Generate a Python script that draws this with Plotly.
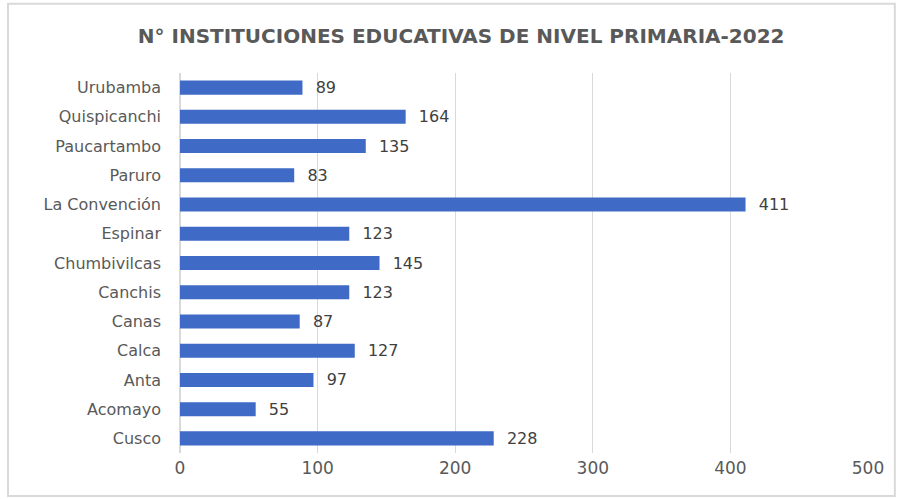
import plotly.graph_objects as go

# Data (bottom to top, as drawn)
provincias = ["Cusco", "Acomayo", "Anta", "Calca", "Canas", "Canchis", "Chumbivilcas",
              "Espinar", "La Convención", "Paruro", "Paucartambo", "Quispicanchi", "Urubamba"]
instituciones = [228, 55, 97, 127, 87, 123, 145, 123, 411, 83, 135, 164, 89]
x_ticks = [0, 100, 200, 300, 400, 500]

TITLE = "N° INSTITUCIONES EDUCATIVAS DE NIVEL PRIMARIA-2022"
BAR_COLOR = "#3F6AC6"
TEXT_COLOR = "#595959"
GRID_COLOR = "#D9D9D9"
FONT = "DejaVu Sans"

fig = go.Figure(
    go.Bar(
        x=instituciones,
        y=provincias,
        orientation="h",
        marker=dict(color=BAR_COLOR, line=dict(width=0)),
        text=[f"  {v}" for v in instituciones],
        textposition="outside",
        constraintext="none",
        textfont=dict(family=FONT, size=16, color="#404040"),
        cliponaxis=False,
    )
)

fig.update_layout(
    width=899,
    height=499,
    paper_bgcolor="white",
    plot_bgcolor="white",
    showlegend=False,
    bargap=0.52,
    margin=dict(l=180, r=31, t=73, b=46),
    title=dict(
        text=f"<b>{TITLE}</b>",
        x=0.513, xanchor="center",
        y=0.928, yanchor="middle",
        font=dict(family=FONT, size=20, color=TEXT_COLOR),
    ),
    xaxis=dict(
        range=[0, 500],
        tickvals=x_ticks,
        showgrid=True,
        gridcolor=GRID_COLOR,
        gridwidth=1,
        zeroline=True,
        zerolinecolor=GRID_COLOR,
        showline=False,
        ticks="",
        ticklabelstandoff=3,
        tickfont=dict(family=FONT, size=17, color=TEXT_COLOR),
    ),
    yaxis=dict(
        categoryorder="array",
        categoryarray=provincias,
        showgrid=False,
        ticks="",
        ticklabelstandoff=18,
        tickfont=dict(family=FONT, size=16, color=TEXT_COLOR),
    ),
    shapes=[
        dict(
            type="rect", xref="paper", yref="paper",
            x0=-0.25, x1=1.039, y0=-0.113, y1=1.182,
            line=dict(color=GRID_COLOR, width=2),
            fillcolor="rgba(0,0,0,0)",
            layer="below",
        )
    ],
)

# drop the page's default body margin so the figure sits at the window origin
fig.write_html(
    "out.html",
    config={"displayModeBar": False},
    post_script="document.body.style.margin='0';",
)
